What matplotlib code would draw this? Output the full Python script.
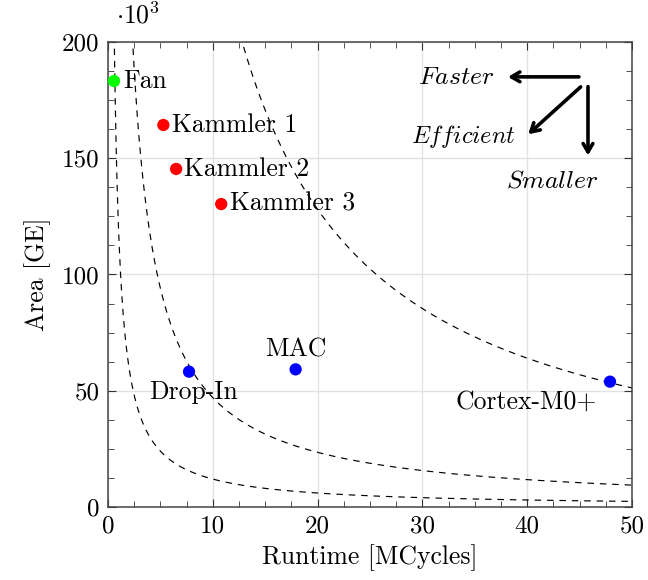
import numpy as np
import matplotlib
matplotlib.use("Agg")
import matplotlib.pyplot as plt
from matplotlib.ticker import MultipleLocator

plt.rcParams["font.family"] = "serif"
plt.rcParams["font.serif"] = ["cmr10", "DejaVu Serif"]
plt.rcParams["mathtext.fontset"] = "cm"
plt.rcParams["axes.unicode_minus"] = False

# Designs: runtime (MCycles) and area (kGE)
names = ["Fan", "Kammler 1", "Kammler 2", "Kammler 3", "Drop-In", "MAC", "Cortex-M0+"]
runtime = [0.57, 5.28, 6.5, 10.8, 7.73, 17.9, 47.9]
area = [183.2, 164.3, 145.4, 130.3, 58.2, 59.2, 53.9]
colors = ["#00ff00", "#ff0000", "#ff0000", "#ff0000", "#0000ff", "#0000ff", "#0000ff"]

# Iso-energy curves: area * runtime = const
iso_products = [120, 470, 2560]

FS = 18.5

fig = plt.figure(figsize=(6.48, 5.80), dpi=100)
ax = fig.add_axes([0.1667, 0.1259, 0.8086, 0.8017])

ax.set_xlim(0, 50)
ax.set_ylim(0, 200)
ax.xaxis.set_major_locator(MultipleLocator(10))
ax.xaxis.set_minor_locator(MultipleLocator(2.5))
ax.yaxis.set_major_locator(MultipleLocator(50))
ax.yaxis.set_minor_locator(MultipleLocator(12.5))
ax.grid(True, which="major", color="#e2e2e2", lw=1.0, zorder=0)
ax.set_axisbelow(True)
ax.tick_params(which="both", direction="in", top=True, right=True,
               labelsize=FS - 0.5, colors="#333333", labelcolor="black", pad=6)
ax.tick_params(which="major", length=6)
ax.tick_params(which="minor", length=4)
for s in ax.spines.values():
    s.set_color("#444444")
    s.set_linewidth(1.1)

xs = np.linspace(0.05, 50, 2000)
for c in iso_products:
    ax.plot(xs, c / xs, ls=(0, (5.5, 5)), color="black", lw=0.85, zorder=2)

ax.scatter(runtime, area, c=colors, s=78, zorder=4, edgecolors="none")

offsets = {
    "Fan": (6.5, 0, "left", "center"),
    "Kammler 1": (6, 0, "left", "center"),
    "Kammler 2": (6, 0, "left", "center"),
    "Kammler 3": (6, 0, "left", "center"),
    "Drop-In": (3, -6, "center", "top"),
    "MAC": (0, 6, "center", "bottom"),
    "Cortex-M0+": (-60, -6, "center", "top"),
}
for n, x, y in zip(names, runtime, area):
    dx, dy, ha, va = offsets[n]
    ax.annotate(n, (x, y), xytext=(dx, dy), textcoords="offset points",
                ha=ha, va=va, fontsize=FS, zorder=5)

# Direction hints
arrow_kw = dict(arrowstyle="->,head_length=0.6,head_width=0.35", lw=2.6, color="black")
ax.annotate("", xy=(37.9, 185), xytext=(45.2, 185), arrowprops=arrow_kw)
ax.annotate("", xy=(39.9, 159.5), xytext=(45.3, 181.5), arrowprops=arrow_kw)
ax.annotate("", xy=(45.8, 150), xytext=(45.8, 182), arrowprops=arrow_kw)
ax.text(36.9, 185, r"$\mathit{Faster}$", ha="right", va="center", fontsize=FS)
ax.text(38.9, 159.5, r"$\mathit{Efficient}$", ha="right", va="center", fontsize=FS - 1)
ax.text(42.4, 140.5, r"$\mathit{Smaller}$", ha="center", va="center", fontsize=FS)

ax.set_xlabel("Runtime [MCycles]", fontsize=FS, labelpad=5)
ax.set_ylabel("Area [GE]", fontsize=FS, labelpad=8)
ax.text(0.015, 1.03, r"$\cdot10^3$", transform=ax.transAxes, fontsize=FS,
        ha="left", va="bottom")

fig.savefig("out.png", dpi=100)
